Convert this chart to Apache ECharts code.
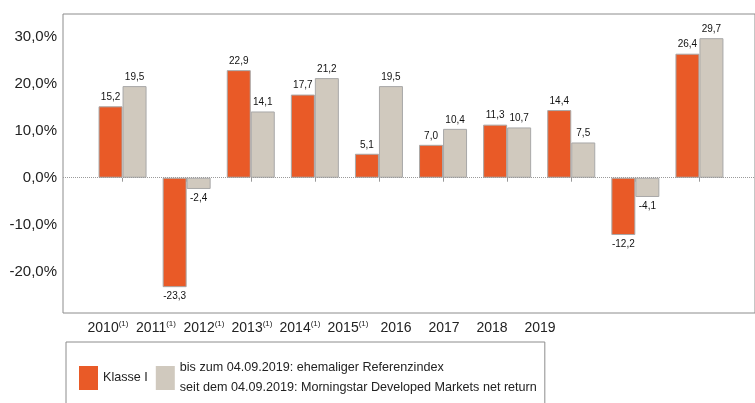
<!DOCTYPE html>
<html><head><meta charset="utf-8">
<script src="https://cdn.jsdelivr.net/npm/echarts@6/dist/echarts.min.js"></script>
<style>html,body{margin:0;padding:0;background:#fff}#c{width:755px;height:403px}</style>
</head><body><div id="c"></div>
<script>
const years = ['2010','2011','2012','2013','2014','2015','2016','2017','2018','2019'];
const footnoted = [true,true,true,true,true,true,false,false,false,false];
const klasseI = [15.2,-23.3,22.9,17.7,5.1,7.0,11.3,14.4,-12.2,26.4];
const benchmark = [19.5,-2.4,14.1,21.2,19.5,10.4,10.7,7.5,-4.1,29.7];
const yTicks = [-20,-10,0,10,20,30];
const nameA = 'Klasse I';
const nameB = 'bis zum 04.09.2019: ehemaliger Referenzindex\nseit dem 04.09.2019: Morningstar Developed Markets net return';
const FONT = '"Liberation Sans", Arial, sans-serif';
const yMin = -28.8, yMax = 34.85;
const fmt = v => v.toFixed(1).replace('.', ',');

const chart = echarts.init(document.getElementById('c'), null, {renderer: 'canvas'});
function barData(arr) {
  return arr.map(v => ({value: v, label: {position: v < 0 ? 'bottom' : 'top'}}));
}
const barCommon = {
  type: 'bar', xAxisIndex: 1, yAxisIndex: 1, barWidth: 24, barGap: '0%',
  label: {show: true, formatter: p => fmt(p.value), fontSize: 10, color: '#111', fontFamily: FONT, distance: 4},
  emphasis: {disabled: true}
};
chart.setOption({
  animation: false,
  textStyle: {fontFamily: FONT},
  grid: [
    {left: 63, right: -10, top: 14, bottom: 90, show: true, borderColor: '#8c8c8c', borderWidth: 1, backgroundColor: 'transparent'},
    {left: 90.5, right: 23.5, top: 14, bottom: 90},
    {left: 84, right: 191, top: 14, bottom: 90}
  ],
  xAxis: [
    {type: 'value', gridIndex: 0, min: 0, max: 1, show: false},
    {type: 'category', gridIndex: 1, data: years,
      axisLine: {show: false},
      axisTick: {show: true, alignWithLabel: true, interval: 0, length: 4, lineStyle: {color: '#999'}},
      axisLabel: {show: false}},
    {type: 'category', gridIndex: 2, data: years,
      axisLine: {show: false}, axisTick: {show: false},
      axisLabel: {interval: 0, margin: 7,
        formatter: (v, i) => footnoted[i] ? '{a|' + v + '}{s|(1)}' : '{a|' + v + '}',
        rich: {
          a: {fontSize: 14, color: '#222', fontFamily: FONT, lineHeight: 17},
          s: {fontSize: 8, color: '#222', fontFamily: FONT, verticalAlign: 'top', lineHeight: 17}
        }}}
  ],
  yAxis: [
    {type: 'value', gridIndex: 0, min: yMin, max: yMax,
      axisLine: {show: false}, axisTick: {show: false}, splitLine: {show: false},
      axisLabel: {customValues: yTicks, formatter: v => fmt(v) + '%', fontSize: 15, color: '#222', margin: 6, fontFamily: FONT}},
    {type: 'value', gridIndex: 1, min: yMin, max: yMax, show: false, splitLine: {show: false}},
    {type: 'value', gridIndex: 2, min: yMin, max: yMax, show: false, splitLine: {show: false}}
  ],
  legend: {
    data: [nameA, nameB], left: 66, top: 342, orient: 'horizontal',
    itemWidth: 19, itemHeight: 24, itemGap: 8, icon: 'rect',
    padding: [16, 8, 40, 13], borderColor: '#8c8c8c', borderWidth: 1,
    itemStyle: {borderWidth: 0},
    textStyle: {fontSize: 12.6, lineHeight: 20, color: '#222', fontFamily: FONT},
    selectedMode: false
  },
  series: [
    Object.assign({}, barCommon, {name: nameA, data: barData(klasseI),
      itemStyle: {color: '#E95A27', borderColor: '#a8a8a8', borderWidth: 1}}),
    Object.assign({}, barCommon, {name: nameB, data: barData(benchmark),
      itemStyle: {color: '#D0C9BE', borderColor: '#a8a8a8', borderWidth: 1}}),
    {type: 'line', xAxisIndex: 0, yAxisIndex: 0, data: [], silent: true,
      markLine: {silent: true, symbol: ['none', 'none'], label: {show: false},
        lineStyle: {type: 'dotted', color: '#9a9a9a', width: 1},
        data: [{yAxis: 0}]}}
  ]
});
</script>
</body></html>
